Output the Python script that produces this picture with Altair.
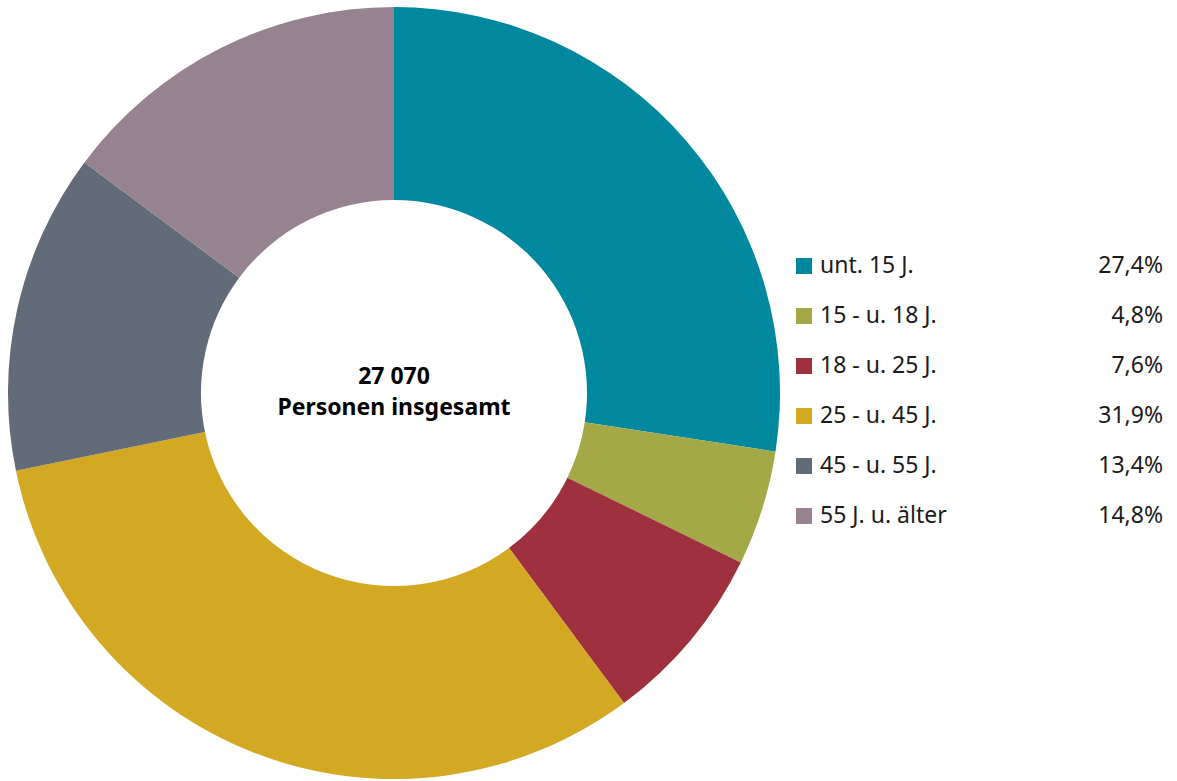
import altair as alt
import pandas as pd

categories = ["unt. 15 J.", "15 - u. 18 J.", "18 - u. 25 J.", "25 - u. 45 J.", "45 - u. 55 J.", "55 J. u. älter"]
shares = [27.4, 4.8, 7.6, 31.9, 13.4, 14.8]
share_labels = ["27,4%", "4,8%", "7,6%", "31,9%", "13,4%", "14,8%"]
colors = ["#00889E", "#A5A847", "#9E313D", "#D3A823", "#626C78", "#96838F"]
center_lines = ["27 070", "Personen insgesamt"]

df = pd.DataFrame({
    "cat": categories,
    "share": shares,
    "label": share_labels,
    "order": list(range(len(categories))),
})

FONT = "Noto Sans"
color_scale = alt.Scale(domain=categories, range=colors)

arcs = alt.Chart(df).mark_arc(innerRadius=193, outerRadius=386, stroke=None).encode(
    theta=alt.Theta("share:Q", stack=True),
    order=alt.Order("order:Q"),
    color=alt.Color("cat:N", scale=color_scale, legend=None),
    x=alt.value(394),
    y=alt.value(393),
)

center_df = pd.DataFrame({"t": center_lines, "i": [0, 1]})
center = alt.Chart(center_df).mark_text(
    font=FONT, fontSize=23, fontWeight="bold", color="#000000", align="center", baseline="middle"
).encode(
    text="t:N",
    x=alt.value(394),
    y=alt.Y("i:O", scale=alt.Scale(type="point", range=[377, 408], padding=0), axis=None),
)

ysc = alt.Y("cat:N", sort=categories, scale=alt.Scale(type="point", range=[266, 516], padding=0), axis=None)

squares = alt.Chart(df).mark_square(size=256, opacity=1).encode(
    x=alt.value(804),
    y=ysc,
    color=alt.Color("cat:N", scale=color_scale, legend=None),
)
labels = alt.Chart(df).mark_text(font=FONT, fontSize=23, color="#1a1a1a", align="left", baseline="middle").encode(
    x=alt.value(820), y=ysc, text="cat:N"
)
pcts = alt.Chart(df).mark_text(font=FONT, fontSize=23, color="#1a1a1a", align="right", baseline="middle").encode(
    x=alt.value(1163), y=ysc, text="label:N"
)

chart = alt.layer(arcs, squares, labels, pcts).resolve_scale(y="shared")
chart = alt.layer(chart, center).resolve_scale(y="independent").properties(
    width=1177, height=781, padding=0, autosize=alt.AutoSizeParams(type="none"), background="#ffffff"
).configure_view(stroke=None)

chart.save("out.html", embed_options={"renderer": "svg", "actions": False})
